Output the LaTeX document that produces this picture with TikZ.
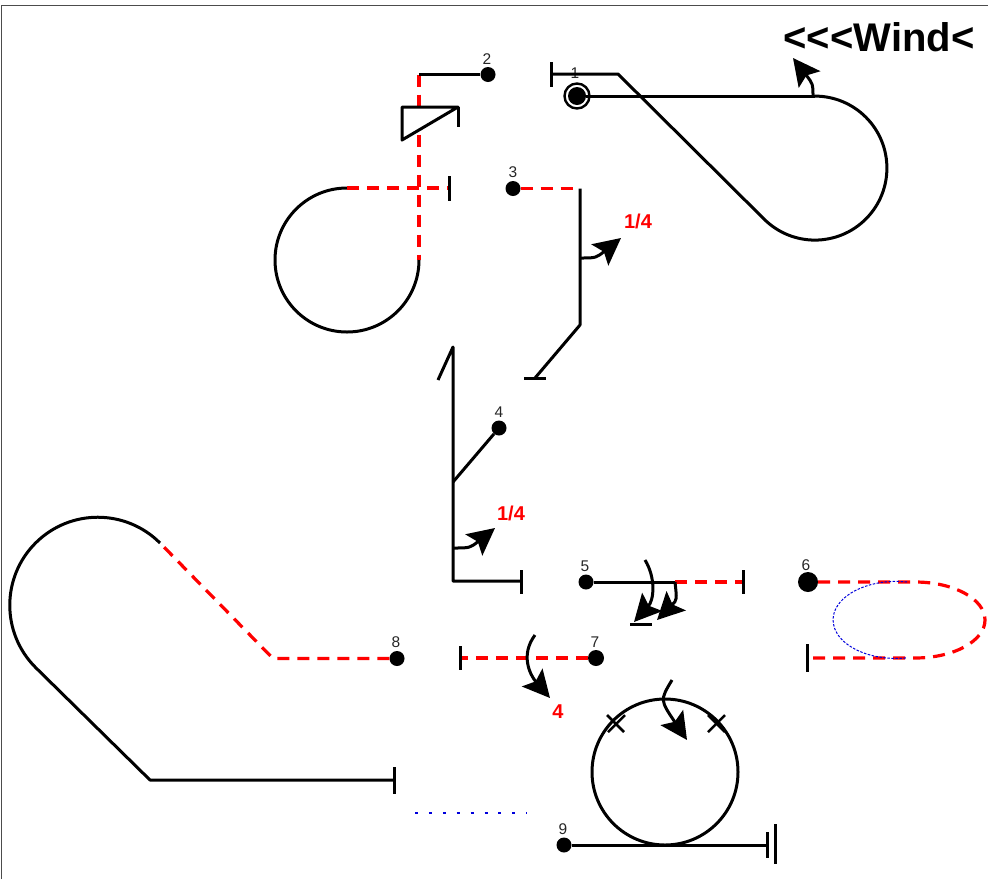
\documentclass[tikz,border=0pt]{standalone}
\usepackage{fontspec}
\setmainfont{Liberation Sans}
\usetikzlibrary{arrows.meta}
\definecolor{rd}{RGB}{255,0,0}
\definecolor{bl}{RGB}{0,0,220}
\tikzset{
  x=1pt,y=-1pt,
  ln/.style={line width=3pt,black,line join=round},
  red dash/.style={line width=3.2pt,rd,dash pattern=on 12pt off 8pt},
  tickmark/.style={line width=3pt,black},
  dot/.style={circle,fill=black,inner sep=0pt,minimum size=15pt},
  num/.style={font=\fontsize{15.5}{15.5}\selectfont,text=black!85,inner sep=0pt},
  redlab/.style={font=\fontsize{20}{20}\selectfont\bfseries,text=rd,inner sep=0pt},
  arw/.style={line width=3pt,black,-{Stealth[length=27pt,width=27pt,inset=5pt]}},
}
\begin{document}
\begin{tikzpicture}
\useasboundingbox (0,0) rectangle (988,879);
\draw[line width=1pt,black!70] (1,879) -- (1,5) -- (988,5);

% 1
\node[dot,minimum size=18pt] (d1) at (577,96) {};
\node[circle,draw=black,line width=2.4pt,minimum size=25pt,inner sep=0pt] (r1) at (577,96) {};
\node[num] (n1) at (575,73) {1};
\coordinate (a1) at (551,74);
\coordinate (a2) at (618,74);
\coordinate (a3) at (764,219);
\coordinate (a4) at (815,96);
\draw[ln] (a1) -- (a2) -- (a3) arc[start angle=225,end angle=450,x radius=72,y radius=-72];
\draw[ln] (d1) -- (a4);
\draw[tickmark] (551,62) -- (551,87);
\coordinate (w1) at (813,96);
\coordinate (w2) at (793,58);
\draw[arw] (w1) .. controls (813,84) .. (w2);
\node[font=\fontsize{40}{40}\selectfont\bfseries,inner sep=0pt] (wind) at (879,37) {<{}<{}<{}Wind<};

% 2
\node[dot] (d2) at (488,74.5) {};
\node[num] (n2) at (487,59) {2};
\coordinate (b1) at (419,74.5);
\coordinate (b2) at (419,260);
\coordinate (b3) at (347,188);
\coordinate (b4) at (449,188);
\draw[red dash] (b1) -- (b2);
\draw[ln] (d2) -- (b1);
\draw[ln] (b2) arc[start angle=0,end angle=-270,x radius=72,y radius=-72];
\draw[red dash] (b3) -- (b4);
\draw[tickmark] (449,176) -- (449,201);
\coordinate (t1) at (402,107);
\coordinate (t2) at (458,107);
\coordinate (t3) at (402,140);
\draw[ln,fill=white] (t2) -- (t1) -- (t3) -- cycle;
\draw[tickmark] (t2) -- (458,127);

% 3
\node[dot] (d3) at (513,188.5) {};
\node[num] (n3) at (513,172) {3};
\coordinate (c1) at (580,188.5);
\coordinate (c2) at (580,325);
\coordinate (c3) at (535,378);
\draw[red dash] (d3) -- (c1);
\draw[ln] (c1) -- (c2) -- (c3);
\draw[tickmark] (524,378) -- (546,378);
\coordinate (c4) at (580,258);
\coordinate (c5) at (621,238);
\draw[arw] (c4) .. controls (596,258) .. (c5);
\node[redlab] (l1) at (638,221) {1/4};

% 4
\node[dot] (d4) at (499,428) {};
\node[num] (n4) at (499,412) {4};
\coordinate (e1) at (453,347);
\coordinate (e2) at (453,581);
\coordinate (e3) at (521,581);
\coordinate (e4) at (438,380);
\coordinate (e5) at (453,482);
\draw[ln] (e4) -- (e1) -- (e2) -- (e3);
\draw[tickmark] (521,570) -- (521,594);
\draw[ln] (d4) -- (e5);
\coordinate (e6) at (453,548);
\coordinate (e7) at (495,528);
\draw[arw] (e6) .. controls (470,548) .. (e7);
\node[redlab] (l2) at (511,513) {1/4};

% 5
\node[dot] (d5) at (586,582) {};
\node[num] (n5) at (585,566) {5};
\coordinate (f1) at (675,582);
\coordinate (f2) at (743,582);
\draw[ln] (d5) -- (f1);
\draw[red dash] (f1) -- (f2);
\draw[tickmark] (743,570) -- (743,594);
\coordinate (f3) at (645,560);
\coordinate (f4) at (634,622);
\draw[arw] (f3) .. controls (656,578) and (654,600) .. (f4);
\coordinate (f5) at (657,620);
\draw[arw] (f1) .. controls (677,600) .. (f5);
\draw[tickmark] (630,624) -- (652,624);

% 6
\node[dot,minimum size=20pt] (d6) at (808,582) {};
\node[num] (n6) at (806,565) {6};
\coordinate (g1) at (915,582);
\coordinate (g2) at (915,658);
\coordinate (g3) at (807,658);
\draw[red dash] (d6) -- (g1) arc[start angle=90,end angle=-90,x radius=70,y radius=-38] -- (g3);
\draw[tickmark] (807,644) -- (807,672);
\coordinate (g4) at (907,582);
\draw[line width=1pt,bl,dash pattern=on 2.5pt off 1.5pt] (g4) arc[start angle=80,end angle=280,x radius=63,y radius=-38.5];

% 7
\node[dot,minimum size=16pt] (d7) at (596,658) {};
\node[num] (n7) at (595,642) {7};
\coordinate (h1) at (460,658);
\draw[red dash] (d7) -- (h1);
\draw[tickmark] (460,646) -- (460,670);
\coordinate (h2) at (535,635);
\coordinate (h3) at (550,698);
\draw[arw] (h2) .. controls (520,655) and (530,675) .. (h3);
\node[redlab] (l3) at (558,712) {4};

% 8
\node[dot,minimum size=15pt] (d8) at (397,658.5) {};
\node[num] (n8) at (396,642) {8};
\coordinate (i1) at (273,658.5);
\coordinate (i2) at (160,543);
\coordinate (i3) at (35,667);
\coordinate (i4) at (150,780);
\coordinate (i5) at (394,780);
\draw[red dash] (d8) -- (i1) -- (i2);
\draw[ln] (i2) arc[start angle=45,end angle=225,x radius=88,y radius=-88] -- (i4) -- (i5);
\draw[tickmark] (394,767) -- (394,794);
\coordinate (i6) at (415,813);
\coordinate (i7) at (527,813);
\draw[line width=1.2pt,bl,dash pattern=on 3pt off 10.9pt] (i6) -- (i7);

% 9
\node[dot,minimum size=15pt] (d9) at (564,845) {};
\node[num] (n9) at (563,829) {9};
\coordinate (k1) at (767,845);
\draw[ln] (d9) -- (k1);
\draw[tickmark] (767,832) -- (767,858);
\draw[tickmark] (775,824) -- (775,864);
\draw[ln] (665,772) circle[radius=73];
\draw[line width=2.5pt] (607,715) -- (624,732);
\draw[line width=2.5pt] (608,732) -- (625,715);
\draw[line width=2.5pt] (708,732) -- (725,715);
\draw[line width=2.5pt] (708,715) -- (725,732);
\coordinate (k2) at (672,680);
\coordinate (k3) at (687,740);
\draw[arw] (k2) .. controls (660,700) .. (k3);
\end{tikzpicture}
\end{document}
